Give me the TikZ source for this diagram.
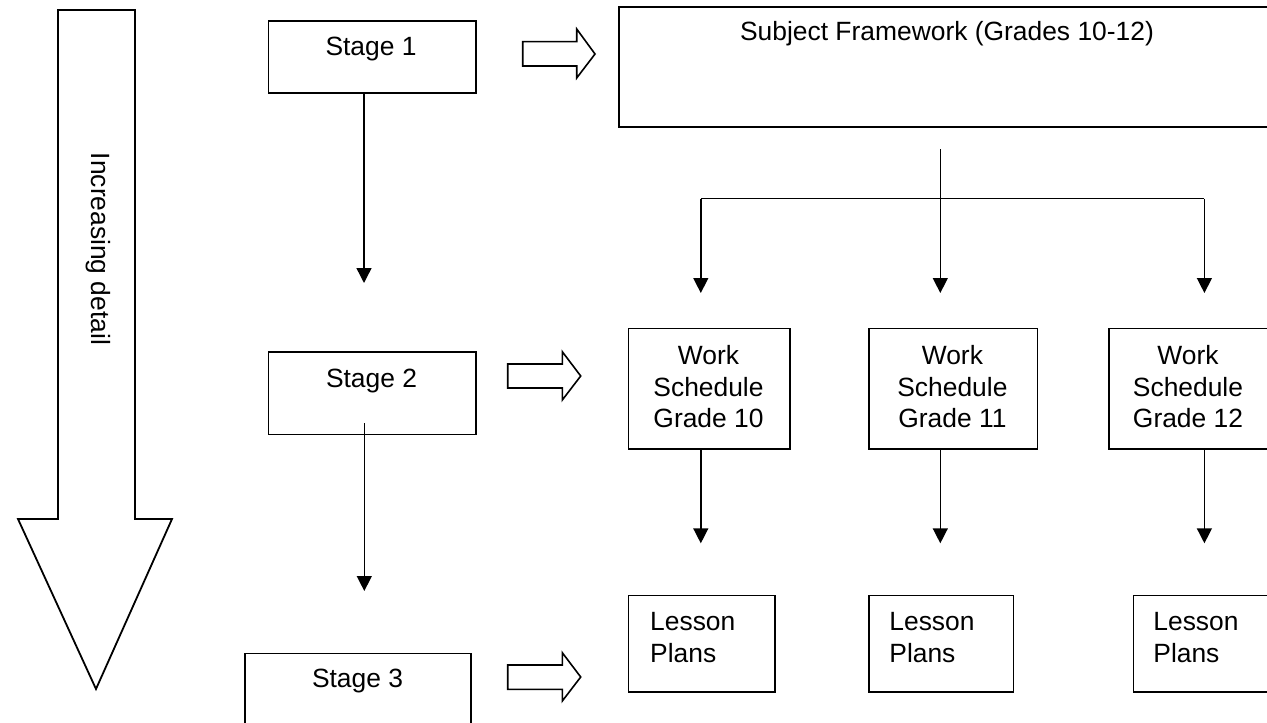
\documentclass[tikz,border=0pt]{standalone}
\usepackage{fontspec}
\setmainfont{Liberation Sans}
\usetikzlibrary{arrows.meta}
\begin{document}
\begin{tikzpicture}[x=0.5pt,y=-0.5pt,
  box/.style={draw, line width=0.8pt, inner sep=0pt, anchor=north west, rectangle},
  txt/.style={inner sep=0pt, font=\fontsize{13.2}{15.85}\selectfont},
  conn/.style={line width=0.7pt, -{Triangle[width=7.5pt,length=7.5pt]}},
  blockarrow/.style={draw, line width=0.8pt, fill=white, line join=miter}]
\useasboundingbox (0,0) rectangle (1267,722);
\clip (0,0) rectangle (1267,722);

% big "Increasing detail" arrow
\draw[blockarrow, line width=0.9pt] (58,10) -- (135,10) -- (135,519) -- (172,519) -- (96,689) -- (18,519) -- (58,519) -- cycle;
\node[txt, rotate=-90] (incr) at (98,249) {Increasing detail};

% stage boxes
\node[box, minimum width=103.8pt, minimum height=36pt] (s1) at (267.7,20) {};
\node[box, minimum width=103.8pt, minimum height=41.2pt] (s2) at (267.7,351.3) {};
\node[box, minimum width=113pt, minimum height=45pt] (s3) at (244,652.7) {};
\node[txt, anchor=base] (t1) at (371,56) {Stage 1};
\node[txt, anchor=base] (t2) at (371.5,387.3) {Stage 2};
\node[txt, anchor=base] (t3) at (357.5,687.7) {Stage 3};

% block arrows
\draw[blockarrow] (522.7,41.7) -- (576.7,41.7) -- (576.7,29) -- (595,54) -- (576.7,78) -- (576.7,66) -- (522.7,66) -- cycle;
\draw[blockarrow] (507.7,364) -- (562.3,364) -- (562.3,351.7) -- (580.7,376) -- (562.3,400) -- (562.3,388) -- (507.7,388) -- cycle;
\draw[blockarrow] (507.7,665) -- (562.3,665) -- (562.3,652.7) -- (580.7,677) -- (562.3,701) -- (562.3,689.3) -- (507.7,689.3) -- cycle;

% subject framework
\node[box, line width=1pt, minimum width=341pt, minimum height=59.85pt] (sf) at (618,6) {};
\node[txt, anchor=base] (tsf) at (947,41) {Subject Framework (Grades 10-12)};

% work schedules
\node[box, minimum width=80.65pt, minimum height=60.15pt] (w1) at (627.6,327.7) {};
\node[box, minimum width=84.4pt, minimum height=60.15pt] (w2) at (868,327.7) {};
\node[box, minimum width=90pt, minimum height=60.15pt] (w3) at (1108.3,327.7) {};
\node[txt, align=center, anchor=north] (tw1) at (708.5,345) {Work\\Schedule\\Grade 10};
\node[txt, align=center, anchor=north] (tw2) at (952.4,345) {Work\\Schedule\\Grade 11};
\node[txt, align=center, anchor=north] (tw3) at (1188,345) {Work\\Schedule\\Grade 12};

% lesson plans
\node[box, minimum width=73.2pt, minimum height=48.15pt] (l1) at (627.6,594.7) {};
\node[box, minimum width=72.3pt, minimum height=48.15pt] (l2) at (868,594.7) {};
\node[box, minimum width=80pt, minimum height=48.15pt] (l3) at (1132.5,594.7) {};
\node[txt, align=left, anchor=north west] (tl1) at (649.8,612.3) {Lesson\\Plans};
\node[txt, align=left, anchor=north west] (tl2) at (889,612.3) {Lesson\\Plans};
\node[txt, align=left, anchor=north west] (tl3) at (1153,612.3) {Lesson\\Plans};

% stage connectors
\coordinate (s1end) at (364,283);
\coordinate (s2start) at (364.3,423.3);
\coordinate (s2end) at (364.3,591);
\draw[conn] (s1end |- s1.south) -- (s1end);
\draw[conn] (s2start) -- (s2end);

% framework branching
\coordinate (sfs) at (940.3,149);
\coordinate (br) at (940.3,198.7);
\coordinate (a1) at (700.8,293);
\coordinate (a2) at (940.3,293);
\coordinate (a3) at (1204.4,293);
\draw[line width=0.7pt] (a1 |- br) -- (a3 |- br);
\draw[conn] (sfs) -- (a2);
\draw[conn] (a1 |- br) -- (a1);
\draw[conn] (a3 |- br) -- (a3);

% work schedule to lesson plans
\coordinate (b1) at (700.8,543.3);
\coordinate (b2) at (940.3,543.3);
\coordinate (b3) at (1204.4,543.3);
\draw[conn] (b1 |- w1.south) -- (b1);
\draw[conn] (b2 |- w2.south) -- (b2);
\draw[conn] (b3 |- w3.south) -- (b3);
\end{tikzpicture}
\end{document}
